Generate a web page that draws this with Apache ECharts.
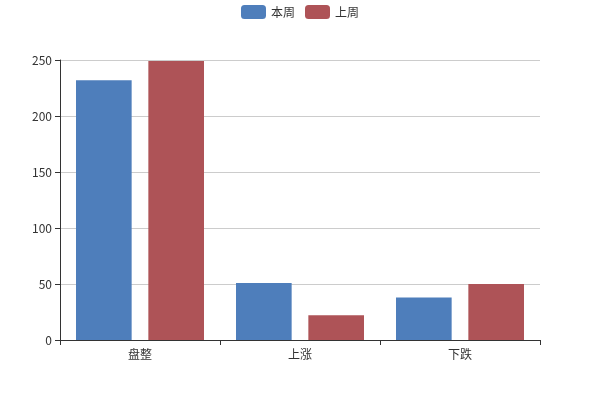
<!DOCTYPE html>
<html><head><meta charset="utf-8">
<script src="https://cdn.jsdelivr.net/npm/echarts@6/dist/echarts.min.js"></script>
<style>html,body{margin:0;padding:0;background:#fff}#c{width:600px;height:400px}</style>
</head><body><div id="c"></div>
<script>
const categories = ['盘整', '上涨', '下跌'];
const seriesNames = ['本周', '上周'];
const thisWeek = [232, 51, 38];
const lastWeek = [249, 22, 50];
const yTicks = [0, 50, 100, 150, 200, 250];

const chart = echarts.init(document.getElementById('c'), null, {renderer: 'canvas'});
chart.setOption({
  animation: false,
  textStyle: {fontFamily: '"Noto Sans CJK SC", "Noto Sans", sans-serif'},
  color: ['#4e7ebb', '#ae5357'],
  legend: {
    top: 0, left: 'center', itemWidth: 25, itemHeight: 14, itemGap: 10,
    textStyle: {color: '#333', fontSize: 12},
    data: seriesNames
  },
  grid: {left: 60, right: 60, top: 60, bottom: 60, containLabel: false},
  xAxis: {
    type: 'category', data: categories,
    axisLine: {lineStyle: {color: '#333'}},
    axisTick: {show: true, lineStyle: {color: '#333'}},
    axisLabel: {color: '#333', fontSize: 12}
  },
  yAxis: {
    type: 'value', min: yTicks[0], max: yTicks[yTicks.length - 1], interval: 50,
    axisLine: {show: true, lineStyle: {color: '#333'}},
    axisTick: {show: true, lineStyle: {color: '#333'}},
    axisLabel: {color: '#333', fontSize: 12},
    splitLine: {lineStyle: {color: '#ccc'}}
  },
  series: [
    {name: seriesNames[0], type: 'bar', data: thisWeek, barGap: '30%', barCategoryGap: '20%'},
    {name: seriesNames[1], type: 'bar', data: lastWeek, barGap: '30%', barCategoryGap: '20%'}
  ]
});
</script></body></html>
